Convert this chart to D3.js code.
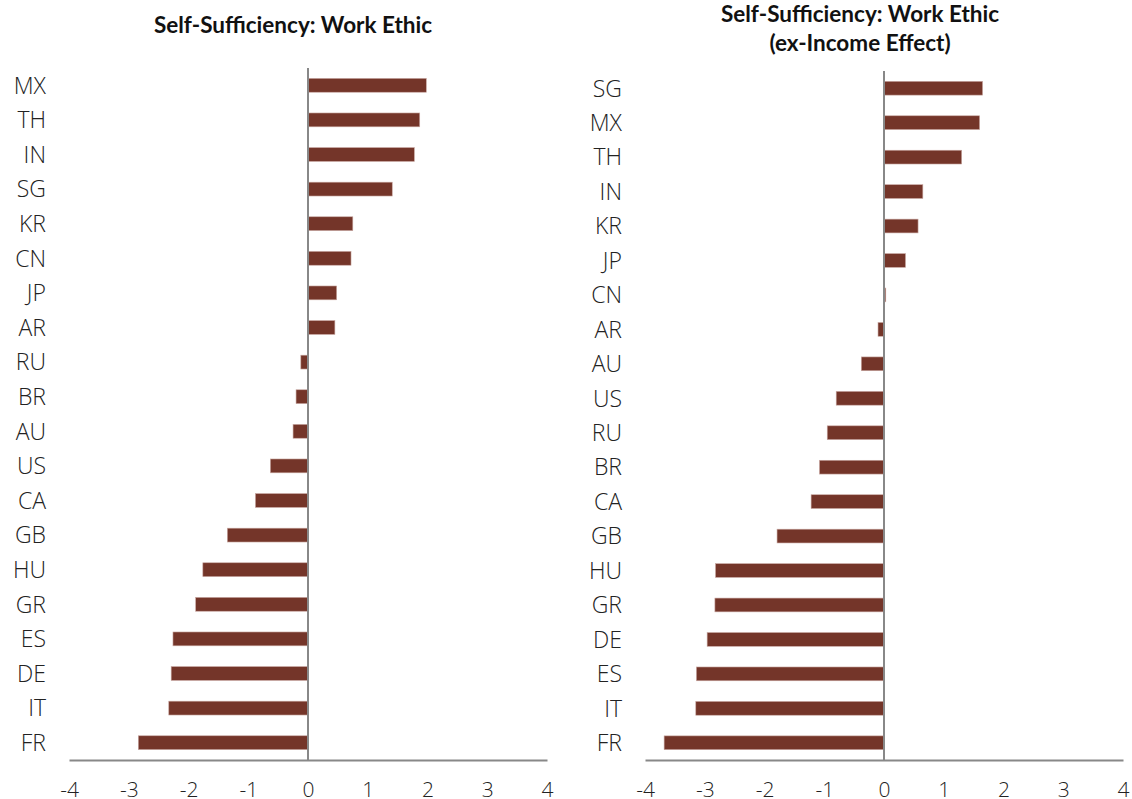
<!DOCTYPE html>
<html lang="en">
<head>
  <meta charset="UTF-8">
  <title>Self-Sufficiency: Work Ethic</title>
  <script src="https://cdn.jsdelivr.net/npm/d3@7"></script>
  <style>
    html, body { margin: 0; padding: 0; background: #fff; }
    .title { font-family: Lato, "Open Sans", sans-serif; font-weight: bold; font-size: 22.5px; fill: #111; }
    .cat { font-family: "Open Sans", "Noto Sans", sans-serif; font-weight: 300; font-size: 23px; fill: #222; }
    .tick text { font-family: "Open Sans", "Noto Sans", sans-serif; font-weight: 300; font-size: 21px; }
  </style>
</head>
<body>
<svg width="1132" height="799"></svg>
<script>
  // chart data
  var leftCats = ["MX", "TH", "IN", "SG", "KR", "CN", "JP", "AR", "RU", "BR",
                  "AU", "US", "CA", "GB", "HU", "GR", "ES", "DE", "IT", "FR"];
  var leftVals = [1.98, 1.87, 1.78, 1.41, 0.75, 0.72, 0.48, 0.45, -0.12, -0.20,
                  -0.25, -0.63, -0.88, -1.35, -1.76, -1.88, -2.26, -2.29, -2.33, -2.84];

  var rightCats = ["SG", "MX", "TH", "IN", "KR", "JP", "CN", "AR", "AU", "US",
                   "RU", "BR", "CA", "GB", "HU", "GR", "DE", "ES", "IT", "FR"];
  var rightVals = [1.65, 1.60, 1.30, 0.65, 0.57, 0.36, 0.03, -0.10, -0.38, -0.80,
                   -0.95, -1.08, -1.22, -1.79, -2.82, -2.83, -2.96, -3.14, -3.15, -3.68];

  var xTicks = [-4, -3, -2, -1, 0, 1, 2, 3, 4];

  var barColor = "#743529";
  var axisColor = "#888";

  var svg = d3.select("svg");

  function drawPanel(opts) {
    var g = svg.append("g");
    var data = opts.cats.map(function (c, i) { return { cat: c, value: opts.vals[i] }; });

    var x = d3.scaleLinear().domain([-4, 4]).range([opts.x0, opts.x1]);
    var y = d3.scaleBand().domain(opts.cats).range([opts.top, opts.bottom]).paddingInner(0.6).paddingOuter(0.3);

    // title
    var t = g.append("text")
      .attr("class", "title")
      .attr("text-anchor", "middle")
      .attr("x", opts.titleX)
      .attr("y", opts.titleY);
    opts.title.forEach(function (line, i) {
      t.append("tspan").attr("x", opts.titleX).attr("dy", i ? 29 : 0).text(line);
    });

    // bars
    g.selectAll("rect.bar")
      .data(data)
      .enter().append("rect")
      .attr("class", "bar")
      .attr("x", function (d) { return x(Math.min(0, d.value)); })
      .attr("y", function (d) { return y(d.cat); })
      .attr("width", function (d) { return Math.abs(x(d.value) - x(0)); })
      .attr("height", y.bandwidth())
      .attr("fill", barColor)
      .attr("stroke", "#c9a8a2")
      .attr("stroke-width", 0.6);

    // zero line
    g.append("line")
      .attr("x1", x(0)).attr("x2", x(0))
      .attr("y1", opts.top).attr("y2", opts.bottom)
      .attr("stroke", axisColor).attr("stroke-width", 2);

    // bottom axis, plain hyphen for negatives like the original
    var ax = g.append("g")
      .attr("transform", "translate(0," + opts.bottom + ")")
      .call(d3.axisBottom(x).tickValues(xTicks).tickSize(0).tickPadding(22)
        .tickFormat(function (d) { return String(d); }));
    ax.select(".domain").attr("stroke", axisColor).attr("stroke-width", 2);
    ax.selectAll(".tick text").attr("fill", "#222");

    // category labels
    g.selectAll("text.cat")
      .data(data)
      .enter().append("text")
      .attr("class", "cat")
      .attr("text-anchor", "end")
      .attr("x", opts.labelX)
      .attr("y", function (d) { return y(d.cat) + y.bandwidth() / 2; })
      .attr("dy", "0.36em")
      .text(function (d) { return d.cat; });
  }

  drawPanel({
    cats: leftCats, vals: leftVals,
    x0: 69, x1: 547, top: 68, bottom: 760,
    labelX: 46, titleX: 293, titleY: 33,
    title: ["Self-Sufficiency: Work Ethic"]
  });

  drawPanel({
    cats: rightCats, vals: rightVals,
    x0: 645, x1: 1123, top: 71, bottom: 760,
    labelX: 622, titleX: 860, titleY: 22,
    title: ["Self-Sufficiency: Work Ethic", "(ex-Income Effect)"]
  });
</script>
</body>
</html>
